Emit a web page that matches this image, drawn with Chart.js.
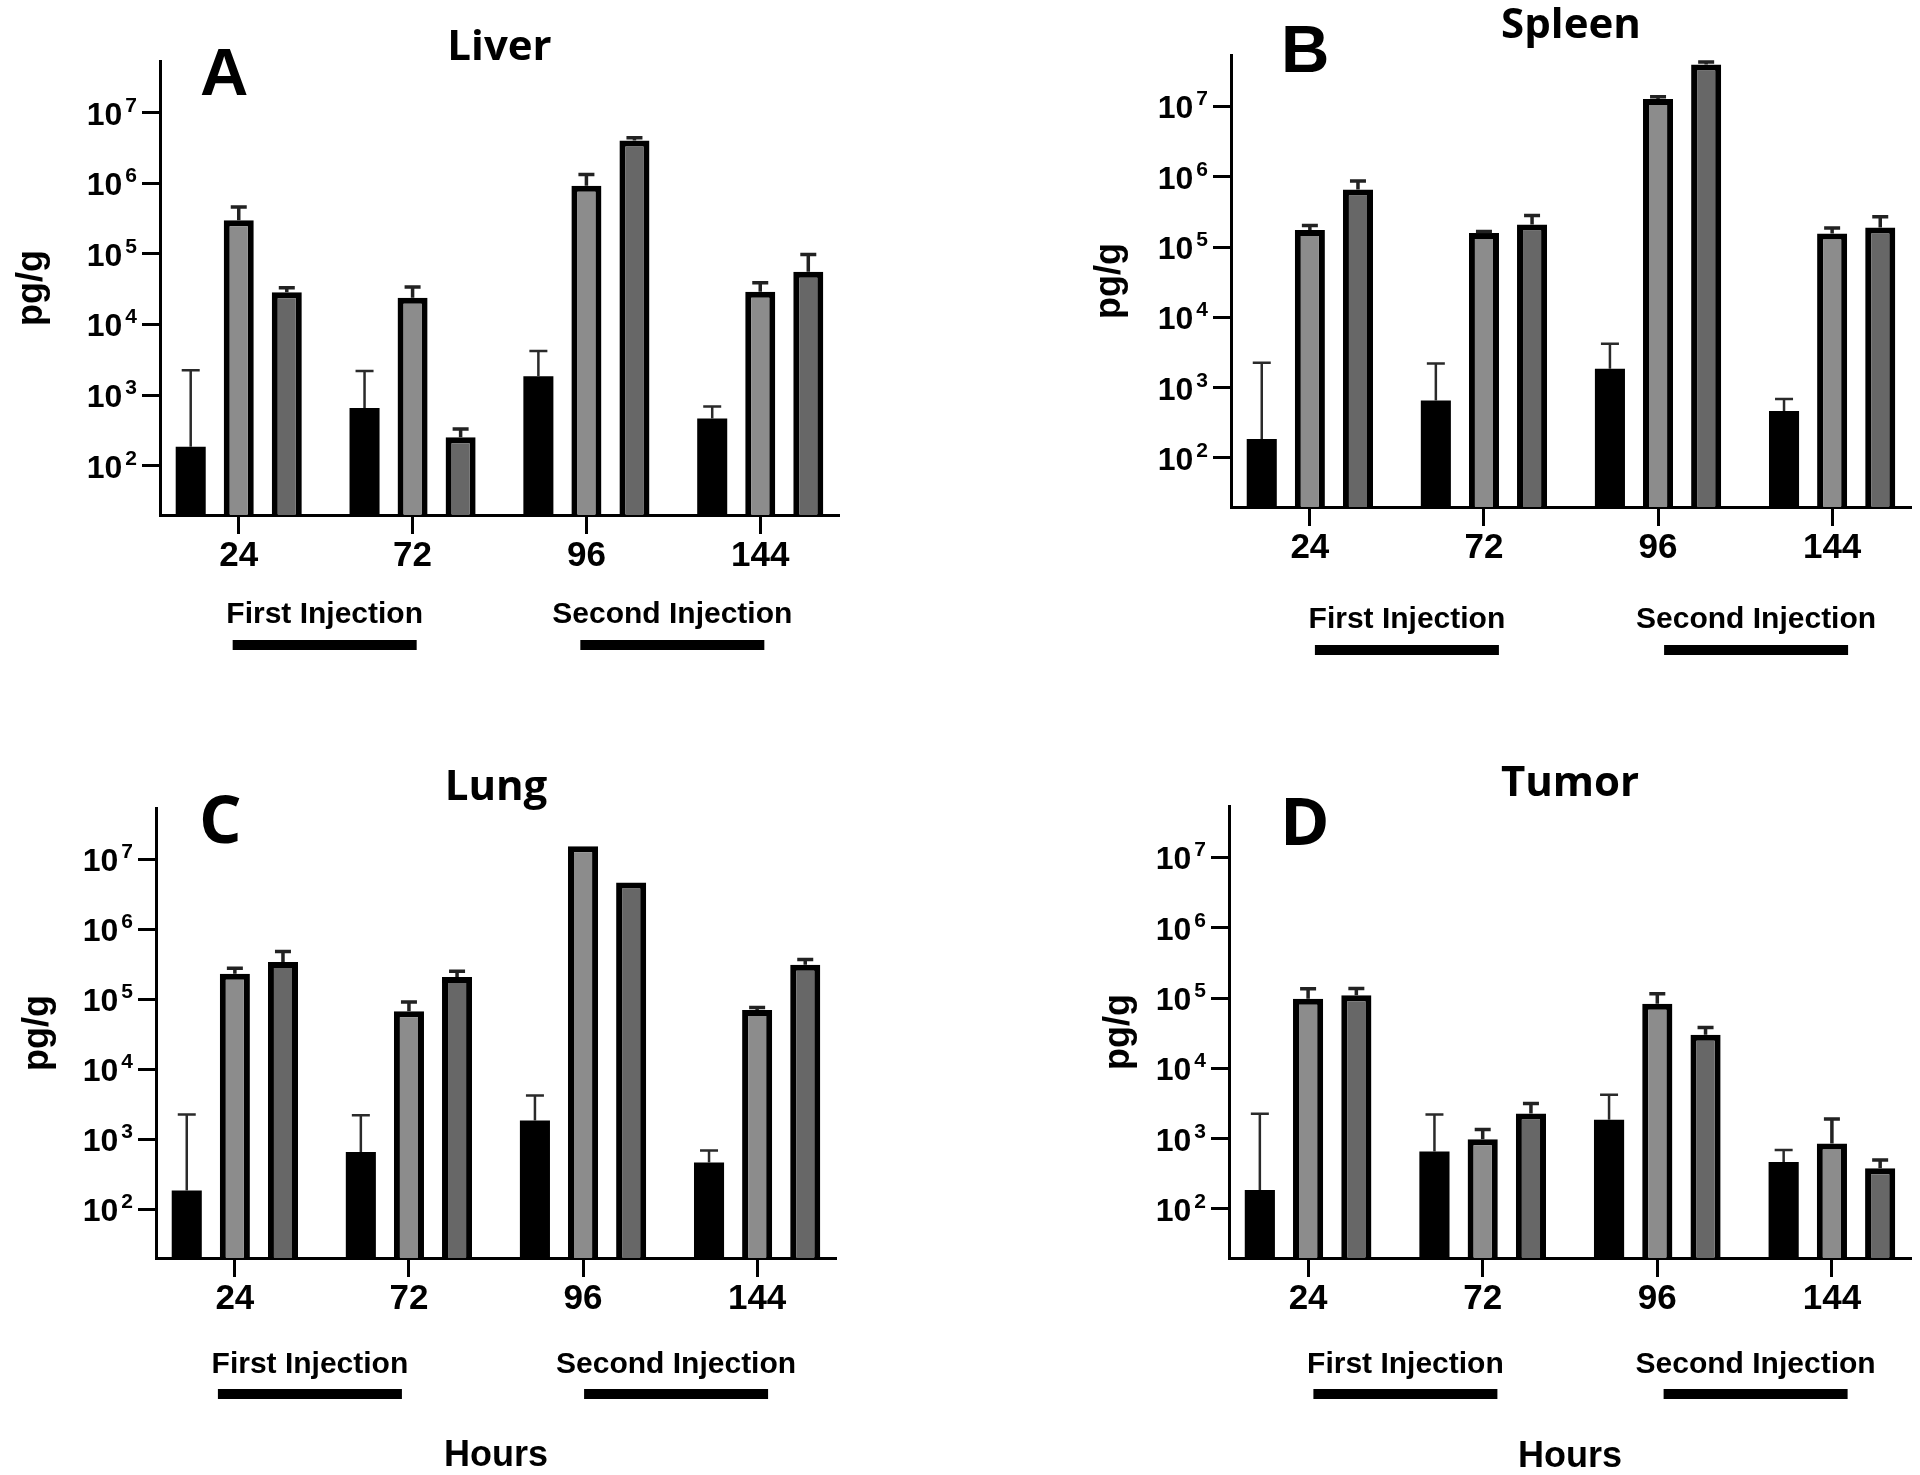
<!DOCTYPE html>
<html>
<head>
<meta charset="utf-8">
<script src="https://cdn.jsdelivr.net/npm/chart.js@4.4.1/dist/chart.umd.min.js"></script>
<style>
  body { margin: 0; background: #fff; }
  #wrap { position: relative; width: 1920px; height: 1475px; }
  canvas { position: absolute; }
</style>
</head>
<body>
<div id="wrap">
  <canvas id="liver" width="960" height="737" style="left:0;top:0"></canvas>
  <canvas id="spleen" width="960" height="737" style="left:960px;top:0"></canvas>
  <canvas id="lung" width="960" height="738" style="left:0;top:737px"></canvas>
  <canvas id="tumor" width="960" height="738" style="left:960px;top:737px"></canvas>
</div>
<script>
const hours = ['24', '72', '96', '144'];
const yTicks = [1e2, 1e3, 1e4, 1e5, 1e6, 1e7];
const yMin = 20;
const yMax = 5.4e7;
const injections = ['First Injection', 'Second Injection'];

// black bars look the same in all four panels
const control = [185, 655, 1850, 465];
const controlErr = [2250, 2200, 4200, 690];

const liverGrey = [3.0e5, 2.4e4, 9.2e5, 2.9e4];
const liverGreyErr = [4.6e5, 3.4e4, 1.33e6, 3.9e4];
const liverDark = [2.85e4, 252, 4.05e6, 5.6e4];
const liverDarkErr = [3.3e4, 330, 4.4e6, 9.8e4];

const spleenGrey = [1.75e5, 1.58e5, 1.28e7, 1.56e5];
const spleenGreyErr = [2.03e5, 1.67e5, 1.38e7, 1.86e5];
const spleenDark = [6.6e5, 2.1e5, 3.95e7, 1.9e5];
const spleenDarkErr = [8.7e5, 2.8e5, 4.3e7, 2.7e5];

const lungGrey = [2.3e5, 6.7e4, 1.53e7, 7.0e4];
const lungGreyErr = [2.77e5, 9.1e4, null, 7.6e4];
const lungDark = [3.4e5, 2.08e5, 4.65e6, 3.1e5];
const lungDarkErr = [4.8e5, 2.5e5, null, 3.7e5];

const tumorGrey = [9.8e4, 980, 8.3e4, 855];
const tumorGreyErr = [1.35e5, 1350, 1.15e5, 1900];
const tumorDark = [1.1e5, 2270, 3.0e4, 380];
const tumorDarkErr = [1.37e5, 3170, 3.8e4, 495];

const arial = "'Liberation Sans', Arial, sans-serif";
const open = "'Open Sans', 'Liberation Sans', sans-serif";
const edge = 0.453; // gap before first / after last category, in category widths

// up-only error bars with a cap
const errorBars = {
  id: 'errorBars',
  afterDatasetsDraw(chart) {
    const ctx = chart.ctx;
    const y = chart.scales.y;
    chart.data.datasets.forEach((ds, i) => {
      chart.getDatasetMeta(i).data.forEach((bar, j) => {
        const hi = ds.err[j];
        if (hi == null) return;
        const top = y.getPixelForValue(hi);
        ctx.save();
        ctx.strokeStyle = ds.errColor;
        ctx.lineWidth = ds.errWidth;
        ctx.beginPath();
        ctx.moveTo(bar.x, bar.y);
        ctx.lineTo(bar.x, top);
        ctx.moveTo(bar.x - ds.cap, top);
        ctx.lineTo(bar.x + ds.cap, top);
        ctx.stroke();
        ctx.restore();
      });
    });
  }
};

// y labels as 10 with a raised exponent, title, letter, axis titles, injection labels
const panelText = {
  id: 'panelText',
  afterDraw(chart, args, p) {
    const { ctx, chartArea: a } = chart;
    const x = chart.scales.x;
    const y = chart.scales.y;
    ctx.save();
    ctx.fillStyle = '#000';

    ctx.textBaseline = 'alphabetic';
    ctx.textAlign = 'right';
    y.ticks.forEach(t => {
      const py = y.getPixelForValue(t.value);
      const exp = String(Math.round(Math.log10(t.value)));
      const right = a.left - 23;
      ctx.font = 'bold 21px ' + arial;
      ctx.fillText(exp, right, py - 1);
      const ew = ctx.measureText(exp).width;
      ctx.font = 'bold 32px ' + arial;
      ctx.fillText('10', right - ew - 3, py + 12);
    });

    ctx.textAlign = 'center';
    ctx.font = 'bold 42px ' + open;
    ctx.fillText(p.title, (a.left + a.right) / 2, p.titleY);

    ctx.textAlign = 'left';
    ctx.font = 'bold 67px ' + p.letterFont;
    ctx.fillText(p.letter, p.letterX, p.letterY);

    ctx.save();
    ctx.translate(p.yTitleX, (a.top + a.bottom) / 2);
    ctx.rotate(-Math.PI / 2);
    ctx.textAlign = 'center';
    ctx.textBaseline = 'middle';
    ctx.font = 'bold 36px ' + arial;
    ctx.fillText('pg/g', 0, 0);
    ctx.restore();

    ctx.textAlign = 'center';
    ctx.font = 'bold 30px ' + arial;
    injections.forEach((name, k) => {
      const cx = (x.getPixelForValue(2 * k) + x.getPixelForValue(2 * k + 1)) / 2 + p.injShift[k];
      ctx.fillText(name, cx, p.injTextY);
      ctx.fillRect(cx - 92, p.injBarY - 5, 184, 10);
    });

    if (p.hoursY) {
      ctx.font = 'bold 36px ' + arial;
      ctx.fillText('Hours', (a.left + a.right) / 2, p.hoursY);
    }
    ctx.restore();
  }
};

function makeChart (id, grey, greyErr, dark, darkErr, p) {
  const canvas = document.getElementById(id);
  return new Chart(canvas, {
    type: 'bar',
    data: {
      labels: hours,
      datasets: [
        { label: 'Control', data: control, err: controlErr, backgroundColor: '#000', borderWidth: 0,
          errColor: '#2a2a2a', errWidth: 2.5, cap: 9 },
        { label: 'Group 2', data: grey, err: greyErr, backgroundColor: '#8c8c8c', borderColor: '#000', borderWidth: 6,
          errColor: '#222', errWidth: 3.5, cap: 8 },
        { label: 'Group 3', data: dark, err: darkErr, backgroundColor: '#676767', borderColor: '#000', borderWidth: 6,
          errColor: '#222', errWidth: 3.5, cap: 8 }
      ]
    },
    options: {
      responsive: false,
      animation: false,
      datasets: { bar: { categoryPercentage: 0.829, barPercentage: 0.625 } },
      layout: {
        padding: { left: 0, top: p.top, right: canvas.width - p.right, bottom: canvas.height - p.bottom - 60 }
      },
      plugins: {
        legend: { display: false },
        tooltip: { enabled: false },
        panelText: p
      },
      scales: {
        x: {
          offset: false,
          afterBuildTicks: s => {
            s._startValue = -edge;
            s._valueRange = hours.length - 1 + 2 * edge;
          },
          afterFit: s => { s.height = 60; },
          border: { display: true, color: '#000', width: 3 },
          grid: { offset: false, drawOnChartArea: false, tickLength: 19, tickWidth: 3, tickColor: '#000' },
          ticks: { color: '#000', padding: 1, maxRotation: 0, font: { family: arial, size: 35, weight: 'bold' } }
        },
        y: {
          type: 'logarithmic',
          min: yMin,
          max: yMax,
          bounds: 'data',
          afterBuildTicks: s => { s.ticks = yTicks.map(v => ({ value: v })); },
          afterFit: s => { s.width = p.left; },
          border: { display: true, color: '#000', width: 3 },
          grid: { drawOnChartArea: false, tickLength: 18, tickWidth: 3, tickColor: '#000' },
          ticks: { display: false }
        }
      }
    },
    plugins: [errorBars, panelText]
  });
}

makeChart('liver', liverGrey, liverGreyErr, liverDark, liverDarkErr, {
  left: 160, right: 839, top: 61, bottom: 515,
  title: 'Liver', titleY: 60, letter: 'A', letterFont: arial, letterX: 200, letterY: 95,
  yTitleX: 32, injTextY: 623, injBarY: 645, injShift: [-1, -1]
});
makeChart('spleen', spleenGrey, spleenGreyErr, spleenDark, spleenDarkErr, {
  left: 271, right: 951, top: 55, bottom: 507,
  title: 'Spleen', titleY: 38, letter: 'B', letterFont: arial, letterX: 321, letterY: 72,
  yTitleX: 150, injTextY: 628, injBarY: 650, injShift: [10, 11]
});
makeChart('lung', lungGrey, lungGreyErr, lungDark, lungDarkErr, {
  left: 156, right: 836, top: 71, bottom: 521,
  title: 'Lung', titleY: 63, letter: 'C', letterFont: open, letterX: 199, letterY: 106,
  yTitleX: 38, injTextY: 636, injBarY: 657, injShift: [-12, 6], hoursY: 729
});
makeChart('tumor', tumorGrey, tumorGreyErr, tumorDark, tumorDarkErr, {
  left: 269, right: 951, top: 69, bottom: 521,
  title: 'Tumor', titleY: 59, letter: 'D', letterFont: open, letterX: 320, letterY: 108,
  yTitleX: 159, injTextY: 636, injBarY: 657, injShift: [10, 11], hoursY: 730
});
</script>
</body>
</html>
